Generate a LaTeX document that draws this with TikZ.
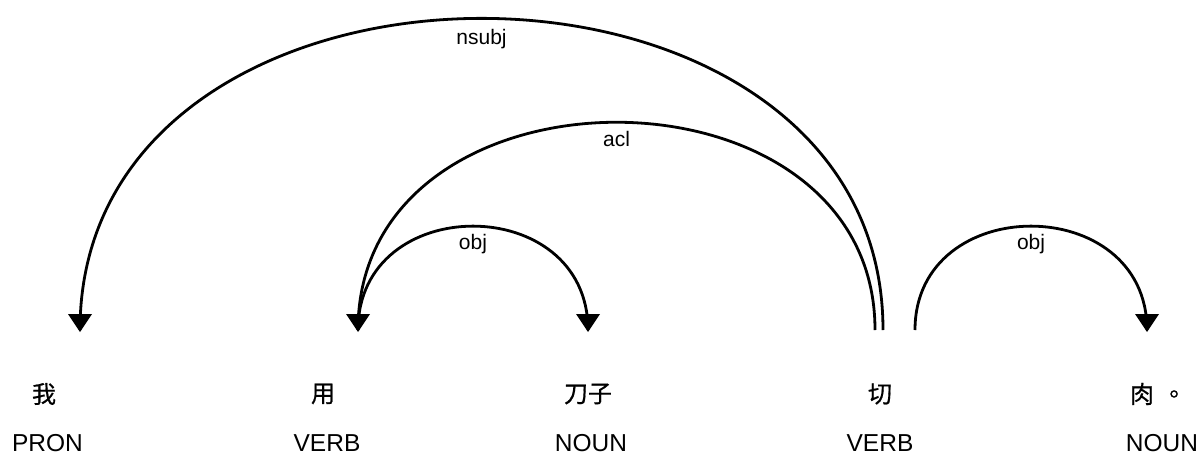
\documentclass[tikz,border=0pt]{standalone}
\usepackage{fontspec}
\setmainfont{Liberation Sans}
\newfontfamily\cjk[FakeBold=0.6]{Noto Sans CJK TC}
\begin{document}
\begin{tikzpicture}[x=1pt,y=-1pt,
  word/.style={inner sep=0pt, anchor=center, font=\cjk\fontsize{24}{24}\selectfont},
  tag/.style={inner sep=0pt, anchor=base, font=\fontsize{24.5}{24.5}\selectfont},
  deplabel/.style={inner sep=0pt, anchor=base, font=\fontsize{21}{21}\selectfont},
  arc/.style={line width=2.8pt},
  head/.style={fill=black, draw=none}
]
\useasboundingbox (0,0) rectangle (1201,455);
% words
\node[word] (w1) at (44,394) {我};
\node[word] (w2) at (323,394) {用};
\node[word] (w3) at (588,394) {刀子};
\node[word] (w4) at (880,394) {切};
\node[word] (w5) at (1158,394) {肉\hspace{8pt}。};
% tags
\node[tag] (t1) at (47.5,451) {PRON};
\node[tag] (t2) at (327,451) {VERB};
\node[tag] (t3) at (591,451) {NOUN};
\node[tag] (t4) at (880,451) {VERB};
\node[tag] (t5) at (1162,451) {NOUN};
% arc end points
\coordinate (nsA) at (883,330);
\coordinate (nsB) at (80,330);
\coordinate (acA) at (875,330);
\coordinate (acB) at (358,330);
\coordinate (o1A) at (358,330);
\coordinate (o1B) at (588,330);
\coordinate (o2A) at (915,330);
\coordinate (o2B) at (1147,330);
% arcs
\draw[arc] (nsA) .. controls (883,-85.5) and (80,-85.5) .. (nsB);
\draw[arc] (acA) .. controls (875,53) and (358,53) .. (acB);
\draw[arc] (o1A) .. controls (358,191.5) and (588,191.5) .. (o1B);
\draw[arc] (o2A) .. controls (915,191.5) and (1147,191.5) .. (o2B);
% arrowheads
\foreach \c in {nsB,acB,o1B,o2B}{
  \fill[head] ([yshift=-2pt]\c) -- ([xshift=-12pt,yshift=16pt]\c) -- ([xshift=12pt,yshift=16pt]\c) -- cycle;
}
% labels
\node[deplabel] (l1) at (481.5,44) {nsubj};
\node[deplabel] (l2) at (616.5,146) {acl};
\node[deplabel] (l3) at (473,249) {obj};
\node[deplabel] (l4) at (1031,249) {obj};
\end{tikzpicture}
\end{document}
